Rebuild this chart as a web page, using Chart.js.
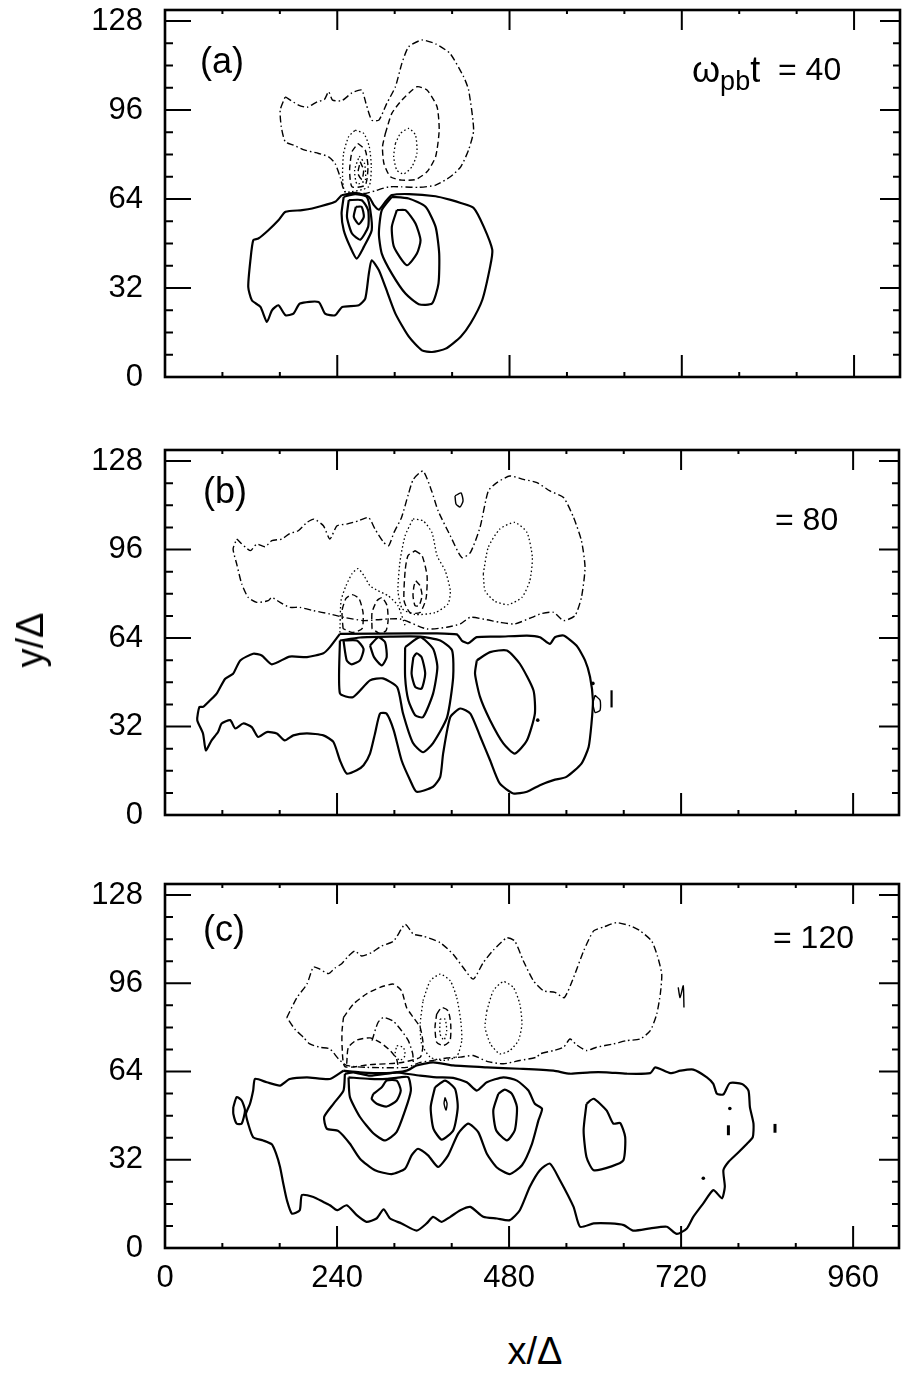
<!DOCTYPE html>
<html>
<head>
<meta charset="utf-8">
<script src="https://cdn.jsdelivr.net/npm/chart.js"></script>
<style>
  body { margin: 0; background: #fff; width: 903px; height: 1374px; position: relative; overflow: hidden;
         font-family: "Liberation Sans", Arial, sans-serif; color: #000; }
  canvas { position: absolute; left: 0; }
  .lbl { position: absolute; white-space: nowrap; line-height: 1; }
  .lbl sub { font-size: 0.75em; vertical-align: -0.3em; }
</style>
</head>
<body>
<canvas id="pa" width="903" height="400" style="top:0"></canvas>
<canvas id="pb" width="903" height="400" style="top:430px"></canvas>
<canvas id="pc" width="903" height="440" style="top:860px"></canvas>

<div class="lbl" style="left:200px;top:43px;font-size:36px">(a)</div>
<div class="lbl" style="left:203px;top:473px;font-size:36px">(b)</div>
<div class="lbl" style="left:203px;top:911px;font-size:36px">(c)</div>
<div class="lbl" style="left:692px;top:52px;font-size:36px">&omega;<sub>pb</sub>t</div>
<div class="lbl" style="left:778px;top:53px;font-size:32px">= 40</div>
<div class="lbl" style="left:775px;top:503px;font-size:32px">= 80</div>
<div class="lbl" style="left:773px;top:921px;font-size:32px">= 120</div>
<div class="lbl" style="left:30px;top:640px;font-size:38px;transform:translate(-50%,-50%) rotate(-90deg)">y/&Delta;</div>
<div class="lbl" style="left:535px;top:1351px;font-size:38px;transform:translate(-50%,-50%)">x/&Delta;</div>

<script>
// axis ticks
const xTicks = [0, 240, 480, 720, 960];
const xMinor = [80, 160, 320, 400, 560, 640, 800, 880];
const yTicks = [0, 32, 64, 96, 128];
const yMinor = [8, 16, 24, 40, 48, 56, 72, 80, 88, 104, 112, 120];

// ---- panel (a), omega t = 40 ----
const aPos1 = [[246,65.4],[237,63],[205,60.6],[191,60],[168,59.4],[158,56.4],[144,52.8],[130,49.8],[123,49.2],[119,42],[116,32.4],[121,27.6],[133,25.2],[142,19.8],[149,24],[158,25.8],[168,22.2],[179,22.8],[188,26.4],[214,27],[223,22.8],[237,22.2],[247,25.2],[270,25.8],[279,28.2],[284,37.2],[288,42],[298,38.4],[307,32.4],[321,22.8],[340,14.4],[358,9.6],[372,9],[391,10.2],[412,14.5],[426,19.4],[442,27.7],[453,39.7],[456,45.7],[444,54.1],[430,60.8],[412,62.6],[398,63.7],[377,65],[340,65.8],[316,65.4],[307,63],[298,60.2],[291,61.8],[284,64.8],[265,66.2]];
const aPos2 = [[249,64.8],[246,58.8],[249,52.8],[258,46.8],[267,42.6],[277,46.8],[288,52.8],[286,60],[281,64.8],[265,65.8]];
const aPos3 = [[256,63.6],[253.5,57.6],[260.5,51.6],[272,49.4],[283,54],[283,60],[274,63.6]];
const aPos4 = [[266,61.2],[263,57.6],[270,55],[277,57.6],[274,61.2]];
const aPos5 = [[316,64.8],[302,60],[298,51.6],[302,44.4],[316,37.2],[335,30],[353.5,26.2],[372,26.4],[381,33.6],[382,44.4],[377,54],[363,61.2],[339.5,64.2]];
const aPos6 = [[323,60],[316,54],[319,46.8],[337,40.2],[351,44.4],[356,49.2],[349,55.2],[335,60]];
const aNeg1 = [[167.5,100.8],[186,97.8],[198,97],[212,99],[222,99.8],[228,102.6],[233.5,99.6],[246.5,99.4],[260.5,102.2],[274,103.2],[280,98.4],[288,92.4],[298,92.4],[309,98.4],[321,104.4],[330,112.8],[339.5,118.8],[358,121.2],[377,119.8],[397,116.4],[416,108],[423,103.2],[430,88.8],[423,81.7],[412,75.6],[398,72.1],[377,69],[353.5,68.2],[330,68.4],[312,68.4],[293,67],[279,66],[251,66.6],[244,72],[237,76.8],[228,79.2],[214,80.4],[195,81.6],[179,83.4],[167.5,84.6],[162,90],[160.5,96]];
const aNeg2 = [[307,87.6],[316,94.8],[330,99.6],[351,104.4],[365,103.2],[379,97.2],[382,88.8],[377,79.2],[365,73.8],[349,71],[330,70.8],[314,72],[305,76.8],[303,82.8]];
const aNeg3 = [[321,84],[328,87.6],[339.5,89.4],[349,87],[351,80.4],[344,75.6],[332.5,73],[323,74.4],[318.6,79.2]];
const aNeg4 = [[265,88.8],[277,87.6],[284.6,82.8],[287.4,75.6],[283.7,68.4],[251,66.6],[247.4,72],[248.8,80.4],[255.8,86.4]];
const aNeg5 = [[268.8,84],[279,81.6],[282.8,75.6],[279,69],[260.5,68.4],[257.2,74.4],[260.5,81]];
const aNeg6 = [[270.7,79.4],[278,76.8],[279,70.8],[267.4,69.4],[264.2,74.4]];
const aNeg7 = [[272,77.4],[276.7,74.4],[274.4,71],[268.8,73.2]];

// ---- panel (b), omega t = 80 ----
const bPos1 = [[244,65.5],[230,60.7],[221,58.5],[198,57.1],[174,57.3],[149,54.5],[135,57.7],[123,58.3],[105,55.9],[95,51.1],[84,49.3],[72,43.9],[63,41.5],[53,39.1],[48,39.1],[45,34.3],[53,29.5],[57,23.4],[65,27],[74,30],[79,33.1],[91,34.3],[98,31.3],[109,33.1],[121,31.8],[130,28.2],[142,30],[156,29.5],[167,27],[179,28.8],[198,29.5],[221,28.8],[235,26.4],[244,19.8],[253.5,15],[267.5,16.2],[277,18],[286,22.2],[293,29.5],[300,36.7],[309,36.7],[319,30.7],[330,19.8],[342,12.6],[351,8.4],[374,10.2],[384,13.8],[388,22.2],[398,35.4],[412,38.5],[426,36.7],[440,28.2],[453.5,19.8],[467,11.4],[486,7.8],[505,8.4],[523,10.8],[542,12.6],[560,13.8],[581,18.6],[591,24.6],[595,33.1],[597,41.5],[593,49.9],[586,55.9],[574,61.3],[556,64.9],[544,64.3],[537,61.9],[523,64.3],[505,64.9],[467,64.5],[435,64.3],[423,62.1],[414,63.1],[407,65.3],[374,65.7],[346.5,65.7]];
const bPos2 = [[244,63.1],[244,44],[262,42.6],[286,48.7],[304,49.4],[324,46.2],[332,36.8],[346,26],[360,22.7],[374,26],[393.5,35.3],[402,49.8],[400.5,59.5],[384,63.1],[356,64.5],[314,64.5],[272,64.2]];
const bPos3 = [[435,55.9],[453.5,58.9],[477,59.5],[495,54.7],[514,45.1],[516,36.7],[505,27],[488,22.2],[472,25.9],[453.5,34.3],[439.5,42.7],[432.5,51.1]];
const bPos4 = [[249,63.1],[253.5,55.9],[260.5,54.5],[272,55.9],[277,60.1],[267.5,63.1]];
const bPos5 = [[286,61.3],[291.6,57.1],[302.4,54.1],[309.3,57.1],[307,62.5],[297.6,64.3]];
const bPos6 = [[335,60.7],[335,49.9],[339.5,41.5],[349,36.1],[360,35.4],[374,43.9],[380,53.5],[374,60.1],[356,64.3]];
const bPos7 = [[346.5,57.1],[344,51.1],[349,46.3],[358,45.7],[363,51.1],[358,57.1],[351,58.5]];
const bPos8 = [[600,43.3],[607,41.5],[607,37.9],[600,37.1],[597,40.4]];
const bMark = [[623,45.1],[623,38.9]];
const bNeg1 = [[100,99.8],[119,95.6],[128,98],[139.5,97],[149,99.2],[163,99.8],[174,101.8],[186,102.8],[198,105.8],[208,107],[221,104.6],[230,99.8],[240,104.6],[253.5,105.2],[270,106.4],[284,107.6],[293,103.4],[305,98.6],[312,97.4],[319.5,102.2],[330,107.6],[339.5,116],[346.5,121.4],[360,124.4],[372,117.2],[381,110],[398,101],[414,93.1],[426,94.9],[439.5,104],[451,117.2],[463,120.2],[481,122.6],[500,121.4],[519,120.2],[537,117.2],[556,114.8],[570,107.6],[581,99.2],[586,89.5],[581,78.7],[572,72.1],[556,70.3],[542,73.3],[526,72.9],[512,71.5],[488,69.1],[467,69.7],[449,70.6],[426,71.5],[412,69.1],[393,67.9],[365,67.3],[328,70.9],[295,70.6],[277,70.3],[249,71.5],[230,72.7],[207,73.9],[188,75.1],[174,75.1],[160.5,76.9],[149,78.7],[144,77.5],[128,76.9],[116,78.7],[107,83.6],[100,90.8],[95,96.2]];
const bNeg2 = [[444,87.2],[451,96.8],[467,103.4],[488,105.8],[505,102.2],[512.5,93.1],[509,84.7],[498,78.7],[479,76.1],[460,77.3],[446.5,81.1]];
const bNeg3 = [[346,107.1],[360,106.4],[372.5,102.1],[379.5,93.8],[391,88.3],[398,81.1],[395,76.4],[377,73.2],[349,72.5],[331,74.6],[325,81.1],[328,92],[335,101]];
const bNeg4 = [[349,95.6],[358.6,93.8],[365.6,86.5],[364.2,78.3],[355.8,73.2],[341.8,73.2],[333.5,77.5],[335,88.3],[339,93.8]];
const bNeg5 = [[350,84.7],[355.8,82.9],[358.6,79.3],[354.4,75.7],[348.8,75.7],[346,79.3],[347.4,82.9]];
const bNeg6 = [[248.4,67.4],[247,73.9],[252.5,78.3],[261,79.7],[270.7,78.3],[276.3,73.2],[275,67.4],[261,66]];
const bNeg7 = [[288.8,67.4],[288.8,73.2],[295.8,77.5],[302.8,78.6],[309.8,75.7],[311.2,70.3],[308.4,66.7],[300,65.6]];
const bNeg8 = [[244,66],[245.6,77.5],[252.5,82.9],[261,87.3],[269.3,89.1],[277.7,86.5],[286,82.9],[297.2,81.1],[311.2,79.3],[325,75.7],[335,68.5]];
const bBlob = [[404.6,115.4],[413,116.5],[415.8,113.6],[411.6,111.4],[406,112.5]];
const bSpecks = [[597,47.6],[520,34.3]];

// ---- panel (c), omega t = 120 ----
const cPos1 = [[249,64.3],[230,61.3],[198,61.9],[174,61.3],[160.5,58.9],[142,60.1],[125.6,61.3],[123,57.1],[118.6,52.3],[113,48.7],[116,45.1],[123,40.2],[137,39],[149,37.6],[155,34.2],[160.5,29.4],[165,23.4],[170,17.4],[177,12.5],[188,13.7],[191,19.2],[207,18.5],[221,16.7],[230,15.5],[240,13.7],[253.5,15.5],[267.5,11.9],[281,9.5],[295,10.7],[305,14],[314,10.7],[330,8.9],[351,6.3],[365,8.9],[374,11.3],[386,9.5],[398,11.3],[412,13.7],[426,14.9],[444,11.3],[463,10.7],[481,10.1],[495,13.7],[509,22.2],[523,28.2],[537,30.6],[551,24.6],[570,14.9],[579,7.7],[598,8.9],[621,8.9],[640,8.3],[653,6.3],[677,7.1],[700,7.7],[714,5.1],[728,7.1],[737,11.3],[751,16.2],[765,21],[777,18],[781,22.2],[779,28.2],[786,31.2],[798,34.2],[812,37.8],[820,40.2],[821,45.1],[816,51.1],[814,57.1],[805,59.5],[788,59.8],[779,55.7],[770,55.9],[765,59.5],[756,61.9],[737,64.7],[719,64.3],[705,63.4],[684,65.5],[677,63.4],[644,63.2],[616,63.7],[593,63.7],[565,63.2],[542,64.3],[495,65],[449,65.5],[402,66.2],[374,67.3],[351,66.2],[337,64.3],[309,63.4],[272,63.7]];
const cPos2 = [[251,63.2],[249,57.1],[235,52.3],[222,47.5],[225.6,43.3],[242,42.4],[258,37.8],[272,32.4],[293,28.2],[316,26.8],[335,28.8],[344,33.6],[353,36],[367,33.6],[381,29.4],[395,33.6],[409,41.5],[423,45.1],[437,42],[449,34.2],[463,29.2],[481,26.8],[498,30],[512,37.8],[521,46.3],[526,50.5],[516,52.3],[507,57.1],[491,60.7],[472,61.9],[449,60.1],[435,57.1],[421,60.1],[402,61.7],[379,61.9],[356,62.5],[337,63.2],[323,63.7],[286,62.5],[263,63.7]];
const cPos3 = [[256,61.9],[258,54.7],[272,47.5],[291,41.5],[307,39],[323,42],[335,49.9],[343,57.1],[339.5,61.9],[328,61.9],[309,61.3],[286,61.3]];
const cPos4 = [[290.6,55.9],[302.4,58.3],[309.3,60.7],[323.3,60.7],[328.9,57.1],[323.3,53.5],[309.3,51.3],[295.4,52.3],[288.4,54.1]];
const cPos5 = [[376.7,58.3],[370.7,51.1],[374.4,43.3],[386.1,39.3],[402.3,42.7],[408.4,51.1],[404.6,57.7],[390.7,60.7]];
const cPos5b = [[390.7,54.6],[393.5,52.4],[392.1,49.9],[389.3,52.4]];
const cPos6 = [[465,55.9],[458,49.9],[462,42.7],[477,39],[488,42.7],[491,51.1],[484,55.9],[474,57.4]];
const cPos7 = [[588,52.3],[598,54.1],[616,49.9],[625.5,45.1],[635,45.3],[642,40.2],[639.5,31.8],[623,29.6],[598,28.2],[588,33],[584,42.7]];
const cPos8 = [[95.3,51.1],[100,54.7],[107,53.5],[111.6,49.9],[107,45.1],[100,45.1],[95.3,48.7]];
const cNeg1 = [[170,83.6],[184,90.8],[198,95.7],[207,101.9],[216,101.1],[228,99.5],[237,101.5],[246.5,103.1],[256,105.9],[265,107.7],[274.5,105.9],[288,107.1],[302,109.5],[319,111.3],[335,117.4],[346.5,113.8],[360,113.1],[384,110.7],[402,106.5],[416,101.7],[430,97.5],[444,103.5],[458,108],[477,112.5],[488,111.3],[500,104.1],[514,96.9],[528,93.3],[544,92.7],[557,90.8],[570,98.1],[584,107.7],[598,115],[612,116.4],[630,118],[649,116.8],[663,115],[679,111.3],[687,105.9],[693,99.3],[691,92.1],[686,84.8],[677,78.8],[663,75.8],[644,75.2],[625.5,74],[602,72.8],[588,71.6],[574,73.7],[565,75.8],[556,72.8],[542,71.6],[523,70.4],[518.6,69.2],[495,68],[472,66.8],[449,67.7],[430,69.8],[412,69.2],[393,68.9],[374,68],[356,67.3],[337,65.5],[281,65.5],[253.5,66.2],[242,68.6],[230,72.2],[216,72.8],[202,74],[193,76.4],[181,79.4]];
const cNeg2 = [[249,83.6],[263,88.5],[281,92.1],[300,94.5],[318.6,95.7],[330,93.3],[337,87.2],[346.5,83.6],[356,80],[360,74],[356,69.2],[328,67.2],[286,66.5],[251,65.8],[247,73.4],[247,78.8]];
const cNeg3 = [[253.5,66.8],[255.8,72.8],[267.5,75.4],[286,76.2],[300,74.6],[314,71.6],[323,68.6],[325.5,65.5]];
const cNeg4 = [[288.8,75.2],[297,81.7],[304.6,83.6],[318.6,82.2],[330,78.8],[339.5,75.2],[345.6,70.4],[346.5,66.2]];
const cNeg5 = [[323.3,73.4],[332.5,72.8],[334.9,69.8],[327.9,68],[320.9,69.8]];
const cNeg6 = [[360,89.7],[370,96.9],[384,99.3],[398,96.9],[407,90.8],[412.6,82.4],[414,75.2],[407,69.4],[388,68],[370,69.2],[358,74],[356,81.2]];
const cNeg7 = [[379,84.8],[386,87.2],[395,86],[398.6,81.2],[397.7,75.2],[388,73.4],[379,74.6],[376.7,80]];
const cNeg8 = [[383.7,83],[390.7,83],[393,78.8],[389.3,75.4],[383.7,77.6]];
const cNeg9 = [[449,86],[458,93.3],[472,96.6],[486,94.5],[495,88.5],[498,81.2],[493,75.2],[481,71.6],[467,70.4],[454,74],[446.5,80]];
const cSquiggle = [[716,94.5],[718.6,90.8],[723,95.1],[724,87.2]];
const cMark1 = [[786,44.5],[786,40.9]];
const cMark2 = [[851,45],[851,41.8]];
const cSpecks = [[788,50.6],[751,25.3]];

// line styles
const SOLID = { borderWidth: 2.2, borderDash: [] };
const THIN = { borderWidth: 1.4, borderDash: [] };
const DASHDOT = { borderWidth: 1.4, borderDash: [7, 3, 1.5, 3] };
const DASH = { borderWidth: 1.4, borderDash: [6, 3.5] };
const DOT = { borderWidth: 1.3, borderDash: [1.5, 2.5] };

Chart.defaults.font.family = "'Liberation Sans', Arial, sans-serif";
Chart.defaults.color = '#000';

function curve(pts, style, open) {
  const d = pts.map(([x, y]) => ({ x, y }));
  if (!open) d.push(d[0]);
  return { data: d, showLine: true, pointRadius: 0, borderColor: '#000', fill: false, tension: 0.2,
           borderCapStyle: 'butt', ...style };
}
function dots(pts) {
  return { data: pts.map(([x, y]) => ({ x, y })), showLine: false, pointRadius: 1.8,
           pointBorderWidth: 0, backgroundColor: '#000' };
}

const frame = {
  id: 'frame',
  afterDraw(chart) {
    const { ctx, chartArea: a, scales: { x, y } } = chart;
    ctx.save();
    ctx.strokeStyle = '#000';
    ctx.lineWidth = 2.6;
    ctx.strokeRect(a.left, a.top, a.right - a.left, a.bottom - a.top);
    ctx.lineWidth = 2;
    ctx.beginPath();
    const xt = (list, lb, lt) => list.forEach(v => {
      const p = x.getPixelForValue(v);
      ctx.moveTo(p, a.bottom); ctx.lineTo(p, a.bottom - lb);
      ctx.moveTo(p, a.top); ctx.lineTo(p, a.top + lt);
    });
    const yt = (list, ll, lr) => list.forEach(v => {
      const p = y.getPixelForValue(v);
      ctx.moveTo(a.left, p); ctx.lineTo(a.left + ll, p);
      ctx.moveTo(a.right, p); ctx.lineTo(a.right - lr, p);
    });
    xt(xTicks, 22, 20); xt(xMinor, 5, 4);
    yt(yTicks, 26, 20); yt(yMinor, 8, 7);
    ctx.stroke();
    ctx.restore();
  }
};

function panel(id, datasets, showX, padTop, padBottom) {
  new Chart(document.getElementById(id), {
    type: 'scatter',
    data: { datasets },
    options: {
      responsive: false, animation: false, devicePixelRatio: 1,
      layout: { padding: { left: 0, right: 3, top: padTop, bottom: padBottom } },
      plugins: { legend: { display: false }, tooltip: { enabled: false } },
      scales: {
        x: {
          type: 'linear', min: 0, max: 1024, display: showX,
          grid: { display: false, drawTicks: false }, border: { display: false },
          ticks: { font: { size: 31 }, padding: 12, maxRotation: 0, autoSkip: false },
          afterBuildTicks: s => { s.ticks = xTicks.map(v => ({ value: v })); },
          afterFit: s => { s.height = showX ? 52 : 0; s.paddingLeft = 0; s.paddingRight = 0; }
        },
        y: {
          type: 'linear', min: 0, max: 132,
          grid: { display: false, drawTicks: false }, border: { display: false },
          ticks: { font: { size: 31 }, padding: 22, autoSkip: false },
          afterBuildTicks: s => { s.ticks = yTicks.map(v => ({ value: v })); },
          afterFit: s => { s.width = 165; s.paddingTop = 0; s.paddingBottom = 0; }
        }
      }
    },
    plugins: [frame]
  });
}

panel('pa', [
  curve(aPos1, SOLID), curve(aPos2, SOLID), curve(aPos3, SOLID), curve(aPos4, SOLID),
  curve(aPos5, SOLID), curve(aPos6, SOLID),
  curve(aNeg1, DASHDOT), curve(aNeg2, DASH), curve(aNeg3, DOT),
  curve(aNeg4, DOT), curve(aNeg5, DASH), curve(aNeg6, DOT), curve(aNeg7, DASH)
], false, 10, 23);

panel('pb', [
  curve(bPos1, SOLID), curve(bPos2, SOLID), curve(bPos3, SOLID), curve(bPos4, SOLID),
  curve(bPos5, SOLID), curve(bPos6, SOLID), curve(bPos7, SOLID), curve(bPos8, THIN),
  curve(bMark, SOLID, true),
  curve(bNeg1, DASHDOT), curve(bNeg2, DOT), curve(bNeg3, DOT), curve(bNeg4, DASH),
  curve(bNeg5, DASH), curve(bNeg6, DASH), curve(bNeg7, DASH), curve(bNeg8, DOT, true),
  curve(bBlob, THIN), dots(bSpecks)
], false, 20, 15);

panel('pc', [
  curve(cPos1, SOLID), curve(cPos2, SOLID), curve(cPos3, SOLID), curve(cPos4, SOLID),
  curve(cPos5, SOLID), curve(cPos5b, THIN), curve(cPos6, SOLID), curve(cPos7, SOLID), curve(cPos8, SOLID),
  curve(cNeg1, DASHDOT), curve(cNeg2, DASH), curve(cNeg3, DASH, true), curve(cNeg4, DASHDOT, true),
  curve(cNeg5, DOT), curve(cNeg6, DOT), curve(cNeg7, DASH), curve(cNeg8, DOT), curve(cNeg9, DOT),
  curve(cSquiggle, THIN, true), curve(cMark1, { borderWidth: 3 }, true), curve(cMark2, { borderWidth: 3 }, true),
  dots(cSpecks)
], true, 24, 0);
</script>
</body>
</html>
